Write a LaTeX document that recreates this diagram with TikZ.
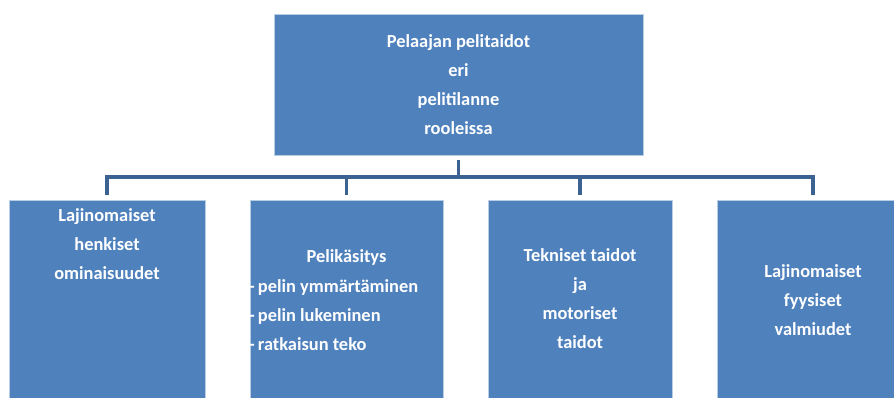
\documentclass[tikz,border=0pt]{standalone}
\usepackage{fontspec}
\setmainfont{Carlito}
\definecolor{boxblue}{RGB}{79,129,189}
\definecolor{boxedge}{RGB}{185,205,229}
\definecolor{linkblue}{RGB}{60,98,145}
\begin{document}
\begin{tikzpicture}[x=1pt,y=1pt,
  every node/.style={text=white,font=\bfseries\fontsize{18.4}{29}\selectfont,inner sep=0pt},
  box/.style={fill=boxblue,draw=boxedge,line width=0.8pt},
  link/.style={draw=linkblue,line width=3.5pt}]
\useasboundingbox (0,0) rectangle (894,398);
\node[box,minimum width=369,minimum height=141,align=center] (top) at (458.5,313.5) {Pelaajan pelitaidot\\eri\\pelitilanne\\rooleissa};
\node[box,minimum width=196,minimum height=202] (b1) at (107,97) {};
\node[box,minimum width=193,minimum height=202] (b2) at (346.5,97) {};
\node[box,minimum width=184,minimum height=202] (b3) at (580,97) {};
\node[box,minimum width=192,minimum height=202] (b4) at (813,97) {};
\node[align=center] (t1) at ([yshift=57]b1.center) {Lajinomaiset\\henkiset\\ominaisuudet};
\node (t2) at ([yshift=44]b2.center) {Pelikäsitys};
\node[align=left,anchor=west] (t2list) at (249,83) {-\,pelin ymmärtäminen\\-\,pelin lukeminen\\-\,ratkaisun teko};
\node[align=center] (t3) at ([yshift=2.5]b3.center) {Tekniset taidot\\ja\\motoriset\\taidot};
\node[align=center] (t4) at ([yshift=1]b4.center) {Lajinomaiset\\fyysiset\\valmiudet};
\coordinate (bus) at (458.5,221);
\draw[link,shorten <=5pt] (top.south) -- (top.south |- bus);
\draw[link,shorten <=5pt,shorten >=5pt] (b1.north) |- (bus) -| (b4.north);
\draw[link,shorten <=5pt] (b2.north) -- (b2.north |- bus);
\draw[link,shorten <=5pt] (b3.north) -- (b3.north |- bus);
\end{tikzpicture}
\end{document}
